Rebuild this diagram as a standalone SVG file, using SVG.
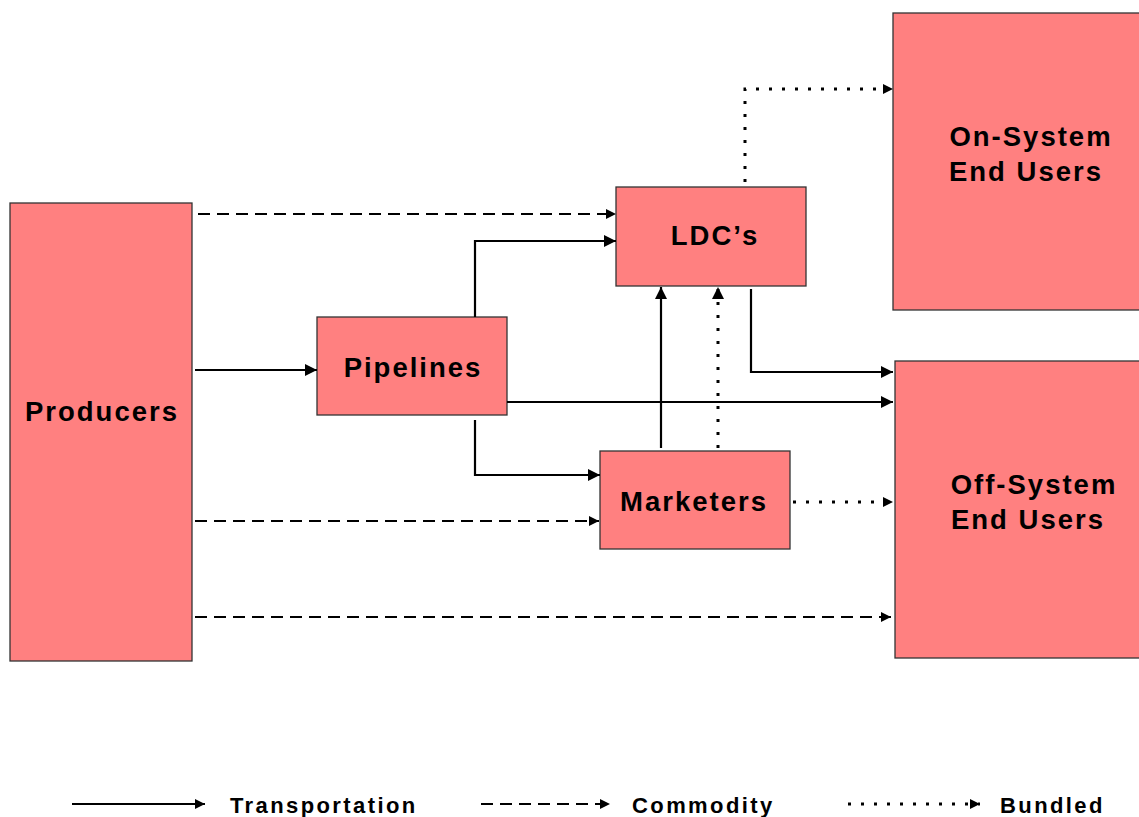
<svg xmlns="http://www.w3.org/2000/svg" width="1139" height="817" viewBox="0 0 1139 817">
  <style>
    .box { fill: #FF8080; stroke: #333; stroke-width: 1.3; }
    .lbl { font-family: "Liberation Sans", Arial, sans-serif; font-weight: bold; font-size: 27.5px; fill: #000; text-anchor: middle; letter-spacing: 2px; }
    .leg { font-family: "Liberation Sans", Arial, sans-serif; font-weight: bold; font-size: 22px; fill: #000; letter-spacing: 2.4px; }
    .solid { fill: none; stroke: #000; stroke-width: 2.2; }
    .dash { fill: none; stroke: #000; stroke-width: 2.2; stroke-dasharray: 12 7; }
    .dot { fill: none; stroke: #000; stroke-width: 3; stroke-dasharray: 3 10; }
  </style>
  <defs>
    <marker id="arr" viewBox="0 0 10 10" refX="10" refY="5" markerWidth="10" markerHeight="10" markerUnits="userSpaceOnUse" orient="auto">
      <path d="M0,0 L10,5 L0,10 Z" fill="#000"/>
    </marker>
    <marker id="arrS" viewBox="0 0 10 10" refX="10" refY="5" markerWidth="12" markerHeight="12" markerUnits="userSpaceOnUse" orient="auto">
      <path d="M0,0 L10,5 L0,10 Z" fill="#000"/>
    </marker>
  </defs>

  <g id="producers">
    <rect class="box" x="10" y="203" width="182" height="458"/>
    <text class="lbl" x="102" y="421">Producers</text>
  </g>
  <g id="pipelines">
    <rect class="box" x="317" y="317" width="190" height="98"/>
    <text class="lbl" x="413" y="377">Pipelines</text>
  </g>
  <g id="ldcs">
    <rect class="box" x="616" y="187" width="190" height="99"/>
    <text class="lbl" x="715" y="245">LDC’s</text>
  </g>
  <g id="marketers">
    <rect class="box" x="600" y="451" width="190" height="98"/>
    <text class="lbl" x="694" y="511">Marketers</text>
  </g>
  <g id="on-system">
    <rect class="box" x="893" y="13" width="250" height="297"/>
    <text class="lbl" x="1031" y="146">On-System</text>
    <text class="lbl" x="1026" y="181">End Users</text>
  </g>
  <g id="off-system">
    <rect class="box" x="895" y="361" width="250" height="297"/>
    <text class="lbl" x="1034" y="494">Off-System</text>
    <text class="lbl" x="1028" y="529">End Users</text>
  </g>

  <g id="connectors">
    <!-- transportation (solid) -->
    <path class="solid" d="M195,370 H317" marker-end="url(#arrS)"/>
    <path class="solid" d="M475,317 V241 H616" marker-end="url(#arrS)"/>
    <path class="solid" d="M475,420 V475 H600" marker-end="url(#arrS)"/>
    <path class="solid" d="M507,402 H893" marker-end="url(#arrS)"/>
    <path class="solid" d="M751,289 V372 H893" marker-end="url(#arrS)"/>
    <path class="solid" d="M661,448 V287" marker-end="url(#arrS)"/>
    <!-- commodity (dashed) -->
    <path class="dash" d="M198,214 H616" marker-end="url(#arr)"/>
    <path class="dash" d="M195,521 H599" marker-end="url(#arr)"/>
    <path class="dash" d="M195,617 H891" marker-end="url(#arr)"/>
    <!-- bundled (dotted) -->
    <path class="dot" d="M718,448 V287" marker-end="url(#arrS)"/>
    <path class="dot" d="M793,502 H893" marker-end="url(#arr)"/>
    <path class="dot" d="M745,182 V89 H893" marker-end="url(#arr)"/>
  </g>

  <g id="legend">
    <path class="solid" d="M72,804 H205" marker-end="url(#arr)"/>
    <text class="leg" x="230" y="813">Transportation</text>
    <path class="dash" d="M481,804 H610" marker-end="url(#arr)"/>
    <text class="leg" x="632" y="813">Commodity</text>
    <path class="dot" d="M848,804 H980" marker-end="url(#arr)"/>
    <text class="leg" x="1000" y="813">Bundled</text>
  </g>
</svg>
